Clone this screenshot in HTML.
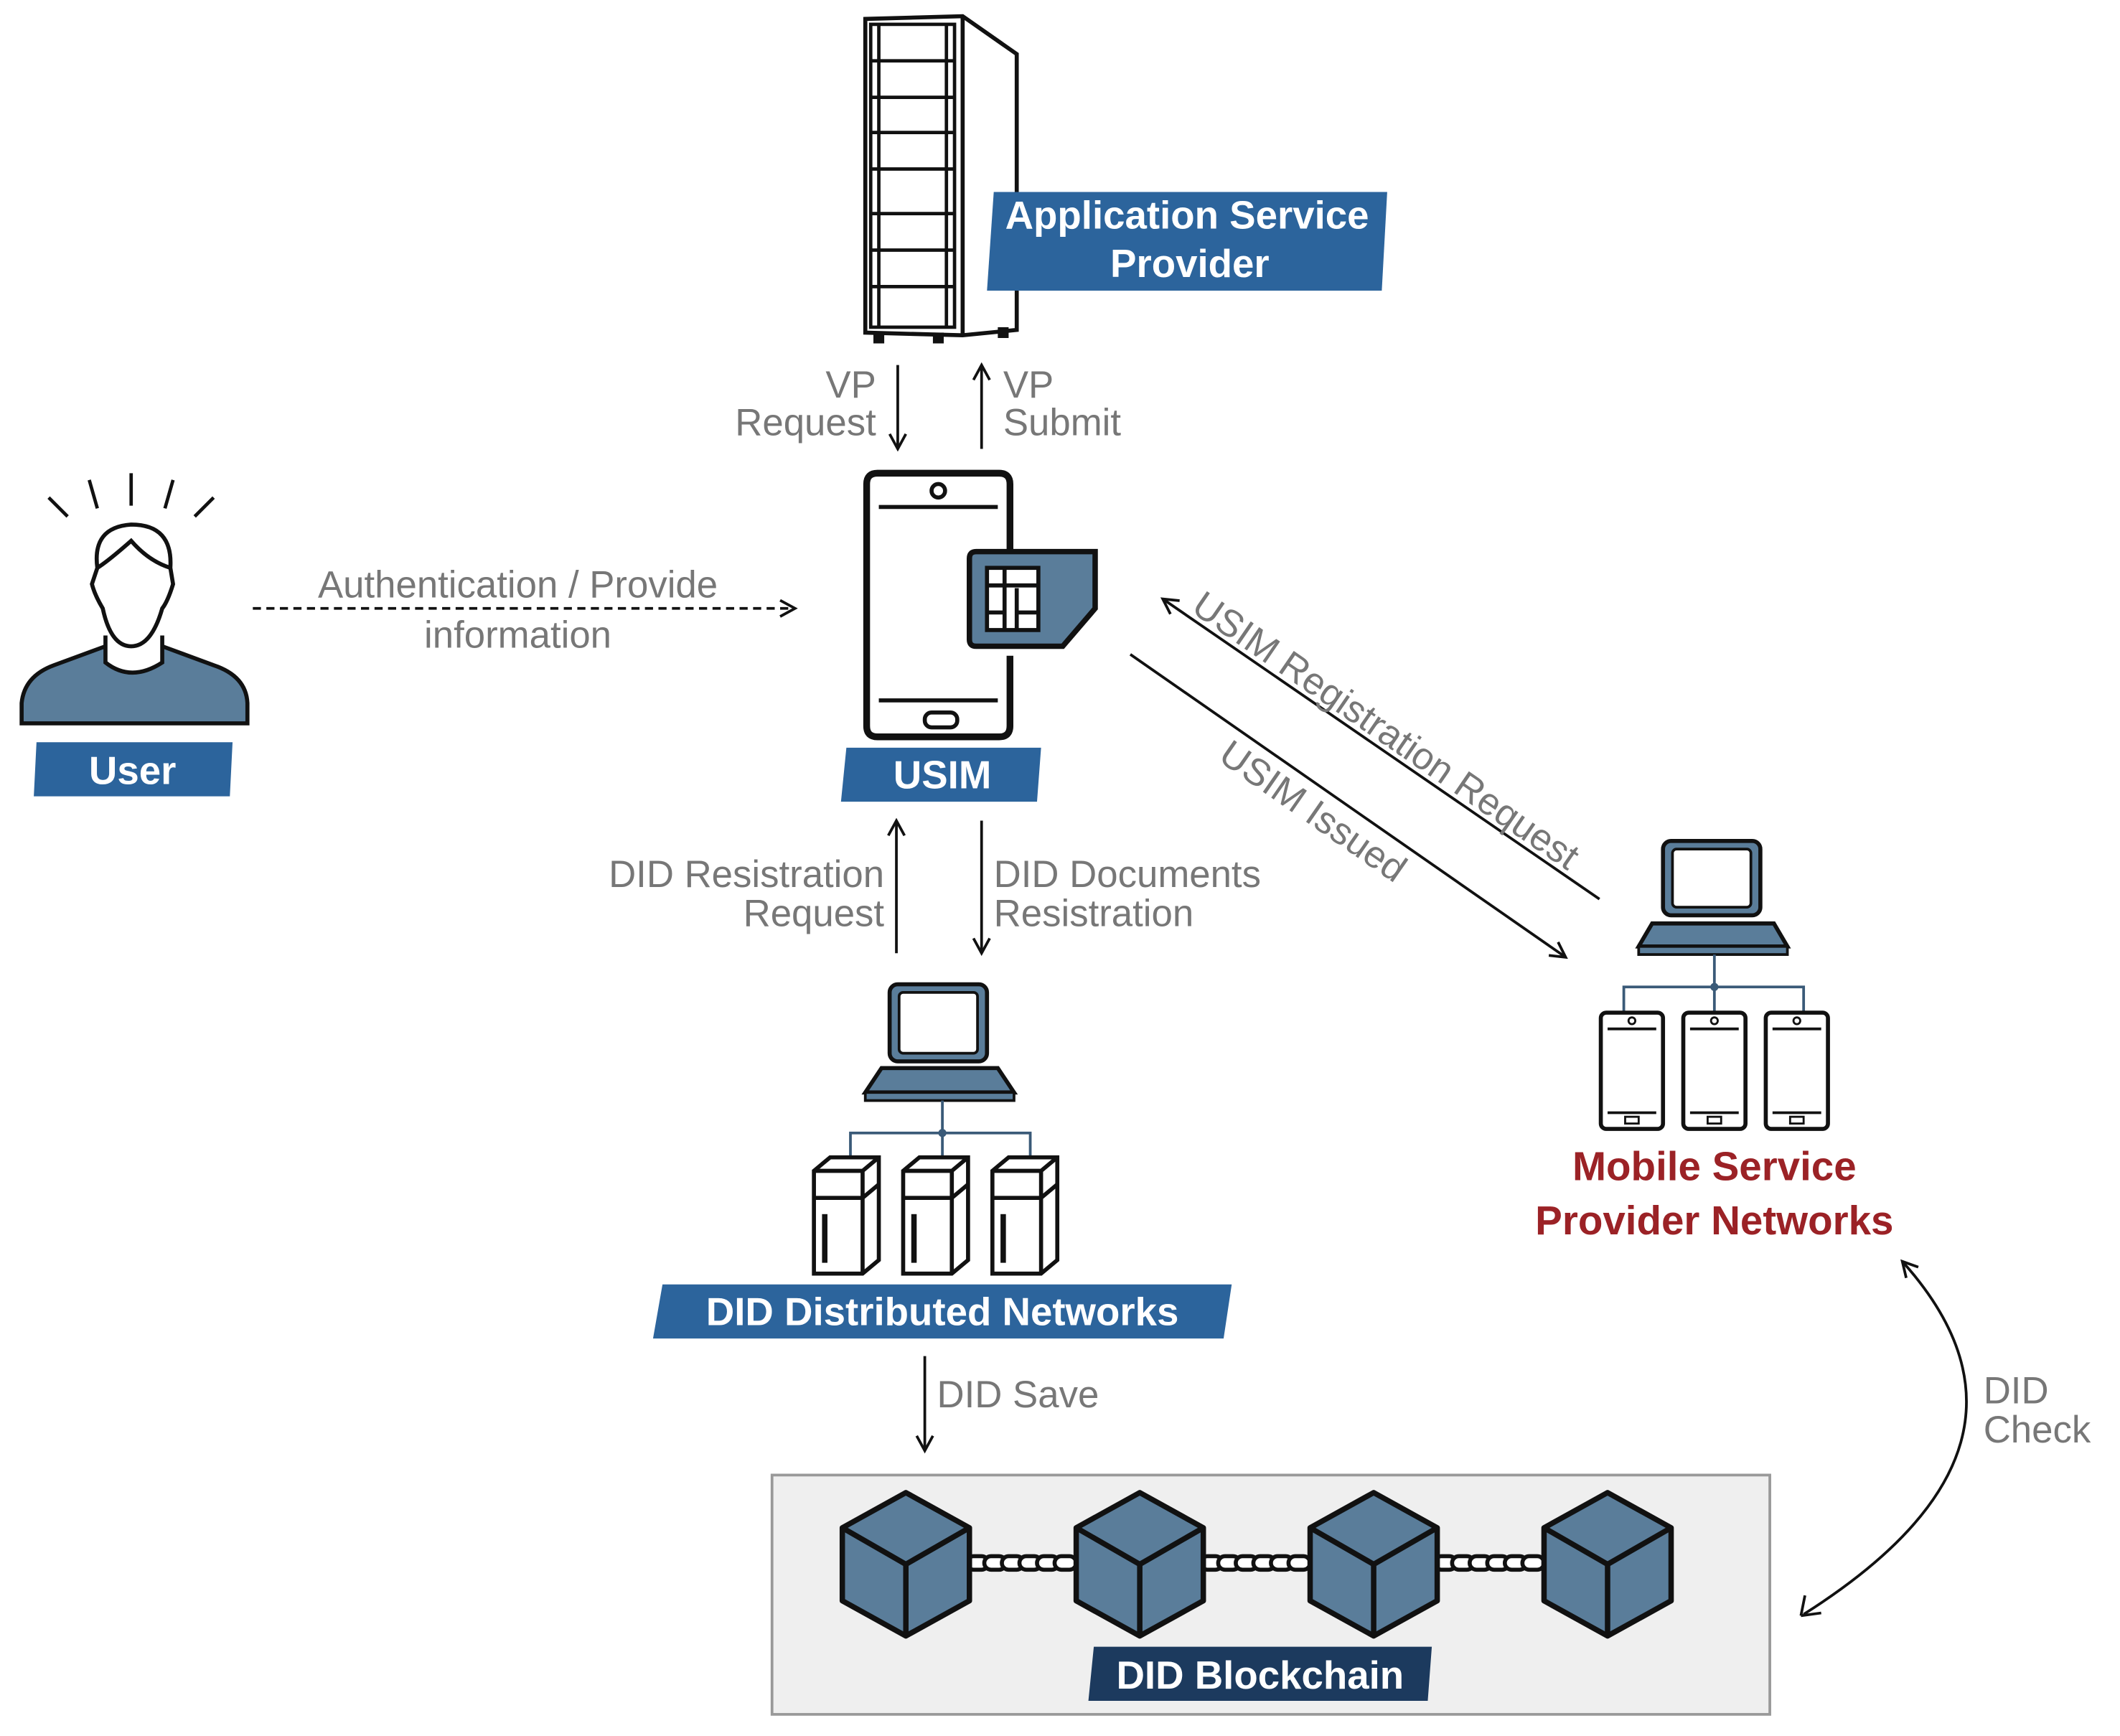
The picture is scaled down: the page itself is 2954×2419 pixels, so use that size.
<!DOCTYPE html>
<html><head><meta charset="utf-8"><style>
html,body{margin:0;padding:0;background:#fff;}
svg{display:block;}
text{font-family:"Liberation Sans",sans-serif;}
.g{fill:#777;font-size:28px;}
.w{fill:#fff;font-size:29px;font-weight:bold;}
</style></head><body>
<svg width="2954" height="2419" viewBox="0 0 1568 1284" preserveAspectRatio="none" xmlns="http://www.w3.org/2000/svg">
<defs>
<marker id="ah" markerWidth="14" markerHeight="14" refX="12" refY="7" orient="auto" markerUnits="userSpaceOnUse">
<path d="M1,1 L12,7 L1,13" fill="none" stroke="#111" stroke-width="2"/>
</marker>
<g id="srv">
<path d="M0,10 L12,0 L48,0 L48,76 L36,86 L0,86 Z" fill="#fff" stroke="#111" stroke-width="3"/>
<path d="M0,10 L36,10 L48,0 M36,10 L36,86 M0,30 L36,30 L48,20" fill="none" stroke="#111" stroke-width="3"/>
<rect x="6" y="42" width="4" height="36" fill="#111"/>
</g>
<g id="cube">
<path d="M0,-53 L47,-27 L47,27 L0,53 L-47,27 L-47,-27 Z" fill="#5a7d9a" stroke="#111" stroke-width="4" stroke-linejoin="round"/>
<path d="M-47,-27 L0,0 L47,-27 M0,0 L0,53" fill="none" stroke="#111" stroke-width="4"/>
</g>
<g id="chain">
<rect x="0" y="-5" width="16" height="10" rx="5" fill="#fff" stroke="#111" stroke-width="3"/>
<rect x="13" y="-5" width="16" height="10" rx="5" fill="#fff" stroke="#111" stroke-width="3"/>
<rect x="26" y="-5" width="16" height="10" rx="5" fill="#fff" stroke="#111" stroke-width="3"/>
<rect x="39" y="-5" width="16" height="10" rx="5" fill="#fff" stroke="#111" stroke-width="3"/>
<rect x="52" y="-5" width="16" height="10" rx="5" fill="#fff" stroke="#111" stroke-width="3"/>
<rect x="65" y="-5" width="16" height="10" rx="5" fill="#fff" stroke="#111" stroke-width="3"/>
</g>
<g id="mphone">
<rect x="0" y="0" width="46" height="86" rx="4" fill="#fff" stroke="#111" stroke-width="3"/>
<path d="M5,12 L41,12 M5,74 L41,74" stroke="#111" stroke-width="2"/>
<circle cx="23" cy="6" r="2.5" fill="none" stroke="#111" stroke-width="1.5"/>
<rect x="18" y="77" width="10" height="5" fill="none" stroke="#111" stroke-width="1.5"/>
</g>
</defs>

<!-- Server rack -->
<path d="M640,14 L712,12 L752,40 L752,244 L712,248 L640,246 Z" fill="#fff" stroke="#111" stroke-width="3"/>
<path d="M712,12 L712,248" stroke="#111" stroke-width="3"/>
<rect x="644" y="18" width="62" height="224" fill="none" stroke="#111" stroke-width="2.5"/>
<g stroke="#111" stroke-width="2.5" fill="none">
<path d="M644,45 L706,45 M644,72 L706,72 M644,98 L706,98 M644,125 L706,125 M644,158 L706,158 M644,185 L706,185 M644,212 L706,212"/>
<path d="M650,18 L650,242 M700,18 L700,242"/>
</g>
<rect x="646" y="246" width="8" height="8" fill="#111"/><rect x="690" y="246" width="8" height="8" fill="#111"/><rect x="738" y="242" width="8" height="8" fill="#111"/>

<!-- ASP label -->
<polygon points="735,142 1026,142 1022,215 730,215" fill="#2c649c"/>
<text x="878" y="169" class="w" text-anchor="middle">Application Service</text>
<text x="880" y="205" class="w" text-anchor="middle">Provider</text>

<!-- VP arrows -->
<line x1="664" y1="270" x2="664" y2="332" stroke="#111" stroke-width="2" marker-end="url(#ah)"/>
<line x1="726" y1="332" x2="726" y2="270" stroke="#111" stroke-width="2" marker-end="url(#ah)"/>
<text x="648" y="294" class="g" text-anchor="end">VP</text>
<text x="648" y="322" class="g" text-anchor="end">Request</text>
<text x="742" y="294" class="g">VP</text>
<text x="742" y="322" class="g">Submit</text>

<!-- Phone -->
<path d="M747,422 L747,358 Q747,350 739,350 L649,350 Q641,350 641,358 L641,537 Q641,545 649,545 L739,545 Q747,545 747,537 L747,485" fill="#fff" stroke="#111" stroke-width="5"/>
<path d="M650,375 L738,375 M650,518 L738,518" stroke="#111" stroke-width="3"/>
<circle cx="694" cy="363" r="5" fill="none" stroke="#111" stroke-width="3"/>
<rect x="684" y="527" width="24" height="11" rx="5" fill="none" stroke="#111" stroke-width="3"/>
<path d="M722,408 L810,408 L810,450 L786,478 L722,478 Q717,478 717,473 L717,413 Q717,408 722,408 Z" fill="#5a7d9a" stroke="#111" stroke-width="4"/>
<rect x="730" y="420" width="38" height="46" fill="#fff" stroke="#111" stroke-width="3"/>
<path d="M743,420 L743,466 M752,435 L752,466 M730,433 L743,433 M730,453 L743,453 M752,433 L768,433 M752,453 L768,453 M743,433 L752,433" stroke="#111" stroke-width="3"/>
<polygon points="626,553 770,553 767,593 622,593" fill="#2c649c"/>
<text x="697" y="583" class="w" text-anchor="middle">USIM</text>

<!-- User -->
<g stroke="#111" stroke-width="2.5" fill="none">
<path d="M36,368 L50,382 M66,355 L72,376 M97,350 L97,374 M128,355 L122,376 M158,368 L144,382"/>
</g>
<path d="M16,535 L16,520 Q18,500 40,492 L78,478 L120,478 L158,492 Q182,500 183,520 L183,535 Z" fill="#5a7d9a" stroke="#111" stroke-width="3"/>
<path d="M78,470 L78,490 Q97,505 120,490 L120,470" fill="#fff" stroke="#111" stroke-width="3"/>
<path d="M72,420 Q68,390 97,388 Q128,388 126,420 L128,432 Q124,445 120,450 Q112,478 97,478 Q82,478 76,450 Q70,440 68,432 Z" fill="#fff" stroke="#111" stroke-width="3"/>
<path d="M72,420 Q80,415 97,400 Q110,415 126,420" fill="none" stroke="#111" stroke-width="3"/>
<polygon points="27,549 172,549 170,589 25,589" fill="#2c649c"/>
<text x="98" y="580" class="w" text-anchor="middle">User</text>

<!-- Auth dashed arrow -->
<line x1="187" y1="450" x2="588" y2="450" stroke="#111" stroke-width="2" stroke-dasharray="6,4" marker-end="url(#ah)"/>
<text x="383" y="442" class="g" text-anchor="middle">Authentication / Provide</text>
<text x="383" y="479" class="g" text-anchor="middle">information</text>

<!-- USIM registration / issued -->
<line x1="1183" y1="665" x2="860" y2="443" stroke="#111" stroke-width="2" marker-end="url(#ah)"/>
<line x1="836" y1="484" x2="1158" y2="708" stroke="#111" stroke-width="2" marker-end="url(#ah)"/>
<text transform="translate(880,452) rotate(34.5)" class="g">USIM Registration Request</text>
<text transform="translate(900,562) rotate(34.8)" class="g">USIM Issued</text>

<!-- DID arrows -->
<line x1="663" y1="705" x2="663" y2="607" stroke="#111" stroke-width="2" marker-end="url(#ah)"/>
<line x1="726" y1="607" x2="726" y2="705" stroke="#111" stroke-width="2" marker-end="url(#ah)"/>
<text x="654" y="656" class="g" text-anchor="end">DID Resistration</text>
<text x="654" y="685" class="g" text-anchor="end">Request</text>
<text x="735" y="656" class="g">DID Documents</text>
<text x="735" y="685" class="g">Resistration</text>

<!-- DID network computer -->
<rect x="658" y="728" width="72" height="57" rx="6" fill="#5a7d9a" stroke="#111" stroke-width="3"/>
<rect x="665" y="734" width="58" height="45" rx="3" fill="#fff" stroke="#111" stroke-width="2"/>
<polygon points="652,790 738,790 750,808 640,808" fill="#5a7d9a" stroke="#111" stroke-width="3"/>
<rect x="640" y="808" width="110" height="6" fill="#5a7d9a" stroke="#111" stroke-width="2"/>
<path d="M697,814 L697,838 M629,858 L629,838 L762,838 L762,858 M697,838 L697,858" stroke="#3a5a78" stroke-width="2" fill="none"/>
<circle cx="697" cy="838" r="3" fill="#3a5a78"/>
<use href="#srv" x="602" y="856"/><use href="#srv" x="668" y="856"/><use href="#srv" x="734" y="856"/>
<polygon points="490,950 911,950 905,990 483,990" fill="#2c649c"/>
<text x="697" y="980" class="w" text-anchor="middle">DID Distributed Networks</text>

<!-- DID save -->
<line x1="684" y1="1003" x2="684" y2="1073" stroke="#111" stroke-width="2" marker-end="url(#ah)"/>
<text x="693" y="1041" class="g">DID Save</text>

<!-- Blockchain -->
<rect x="571" y="1091" width="738" height="177" fill="#efefef" stroke="#999" stroke-width="2"/>
<use href="#chain" x="715" y="1156"/><use href="#chain" x="888" y="1156"/><use href="#chain" x="1061" y="1156"/>
<use href="#cube" x="670" y="1157"/><use href="#cube" x="843" y="1157"/><use href="#cube" x="1016" y="1157"/><use href="#cube" x="1189" y="1157"/>
<polygon points="809,1218 1059,1218 1056,1258 805,1258" fill="#1c3a5e"/>
<text x="932" y="1249" class="w" text-anchor="middle">DID Blockchain</text>

<!-- Mobile network -->
<rect x="1230" y="622" width="72" height="55" rx="6" fill="#5a7d9a" stroke="#111" stroke-width="3"/>
<rect x="1237" y="628" width="58" height="43" rx="3" fill="#fff" stroke="#111" stroke-width="2"/>
<polygon points="1222,683 1312,683 1322,700 1212,700" fill="#5a7d9a" stroke="#111" stroke-width="3"/>
<rect x="1212" y="700" width="110" height="6" fill="#5a7d9a" stroke="#111" stroke-width="2"/>
<path d="M1268,706 L1268,730 M1201,749 L1201,730 L1334,730 L1334,749 M1268,730 L1268,749" stroke="#3a5a78" stroke-width="2" fill="none"/>
<circle cx="1268" cy="730" r="3" fill="#3a5a78"/>
<use href="#mphone" x="1184" y="749"/><use href="#mphone" x="1245" y="749"/><use href="#mphone" x="1306" y="749"/>
<text x="1268" y="873" text-anchor="middle" style="fill:#9b2226;font-size:30px;font-weight:bold">Mobile Service</text>
<text x="1268" y="913" text-anchor="middle" style="fill:#9b2226;font-size:30px;font-weight:bold">Provider Networks</text>

<!-- DID check -->
<path d="M1334,1194 Q1530,1070 1407,933" fill="none" stroke="#111" stroke-width="2" marker-start="url(#ahs)" marker-end="url(#ah)"/>
<path d="M1332,1195 L1335,1180 M1332,1195 L1347,1193" stroke="#111" stroke-width="2" fill="none"/>
<text x="1467" y="1038" class="g">DID</text>
<text x="1467" y="1067" class="g">Check</text>
</svg>
</body></html>
